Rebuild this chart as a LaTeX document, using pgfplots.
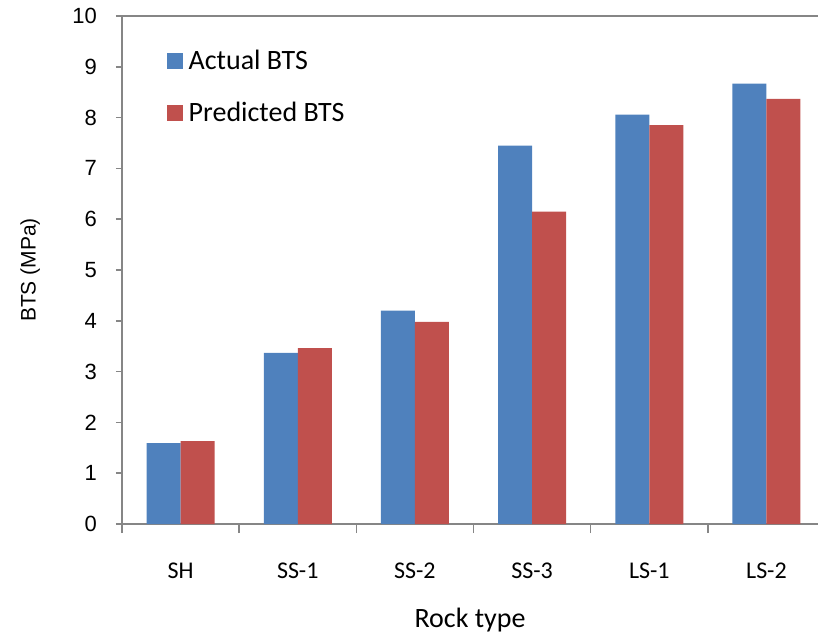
\documentclass[border=0pt]{standalone}
\usepackage{fontspec}
\setmainfont{Liberation Sans}
\newfontfamily\calfont{Carlito}
\usepackage{pgfplots}
\pgfplotsset{compat=1.18}
\definecolor{bblue}{HTML}{4F81BD}
\definecolor{bred}{HTML}{C0504D}
\definecolor{axgray}{HTML}{868686}
\begin{document}
\begin{tikzpicture}
\begin{axis}[
  scale only axis, width=348pt, height=254pt,
  ybar=0pt, bar width=17pt,
  xmin=-0.5, xmax=5.44, ymin=0, ymax=10,
  axis x line=box, axis y line=left,
  axis line style={draw=axgray, line width=0.8pt, -},
  xtick={0,...,5}, xticklabels={SH,SS-1,SS-2,SS-3,LS-1,LS-2},
  minor xtick={-0.5,0.5,1.5,2.5,3.5,4.5},
  major x tick style={draw=none},
  minor x tick style={draw=axgray, line width=0.8pt},
  minor tick length=4.5pt,
  xtick pos=left, ytick pos=left,
  tick align=outside,
  ytick={0,...,10},
  major y tick style={draw=axgray, line width=0.8pt},
  major tick length=3pt,
  /pgf/number format/assume math mode=true,
  yticklabel style={font=\fontsize{11}{13}\selectfont, xshift=-6pt},
  xticklabel style={font=\calfont\fontsize{12}{14}\selectfont, yshift=-13pt},
  ylabel={BTS (MPa)},
  ylabel style={font=\fontsize{10.5}{12}\selectfont, at={(axis description cs:-0.132,0.5)}, anchor=center},
  xlabel={Rock type},
  xlabel style={font=\calfont\fontsize{14}{16}\selectfont, at={(axis description cs:0.5,-0.19)}, anchor=center},
  legend image code/.code={\fill[#1] (0pt,-4pt) rectangle (8pt,4pt);},
  legend style={draw=none, fill=none, at={(0.055,0.95)}, anchor=north west,
    font=\calfont\fontsize{14}{16}\selectfont, row sep=11pt, cells={anchor=west},
    nodes={inner xsep=3pt}},
]
\addplot[fill=bblue, draw=none] coordinates {(0,1.59) (1,3.37) (2,4.20) (3,7.45) (4,8.06) (5,8.67)};
\addplot[fill=bred, draw=none] coordinates {(0,1.63) (1,3.46) (2,3.98) (3,6.15) (4,7.85) (5,8.37)};
\legend{Actual BTS, Predicted BTS}
\end{axis}
\pgfresetboundingbox
\path ([shift={(-61pt,-56pt)}]current axis.south west) rectangle ([shift={(0pt,8pt)}]current axis.north east);
\end{tikzpicture}
\end{document}
